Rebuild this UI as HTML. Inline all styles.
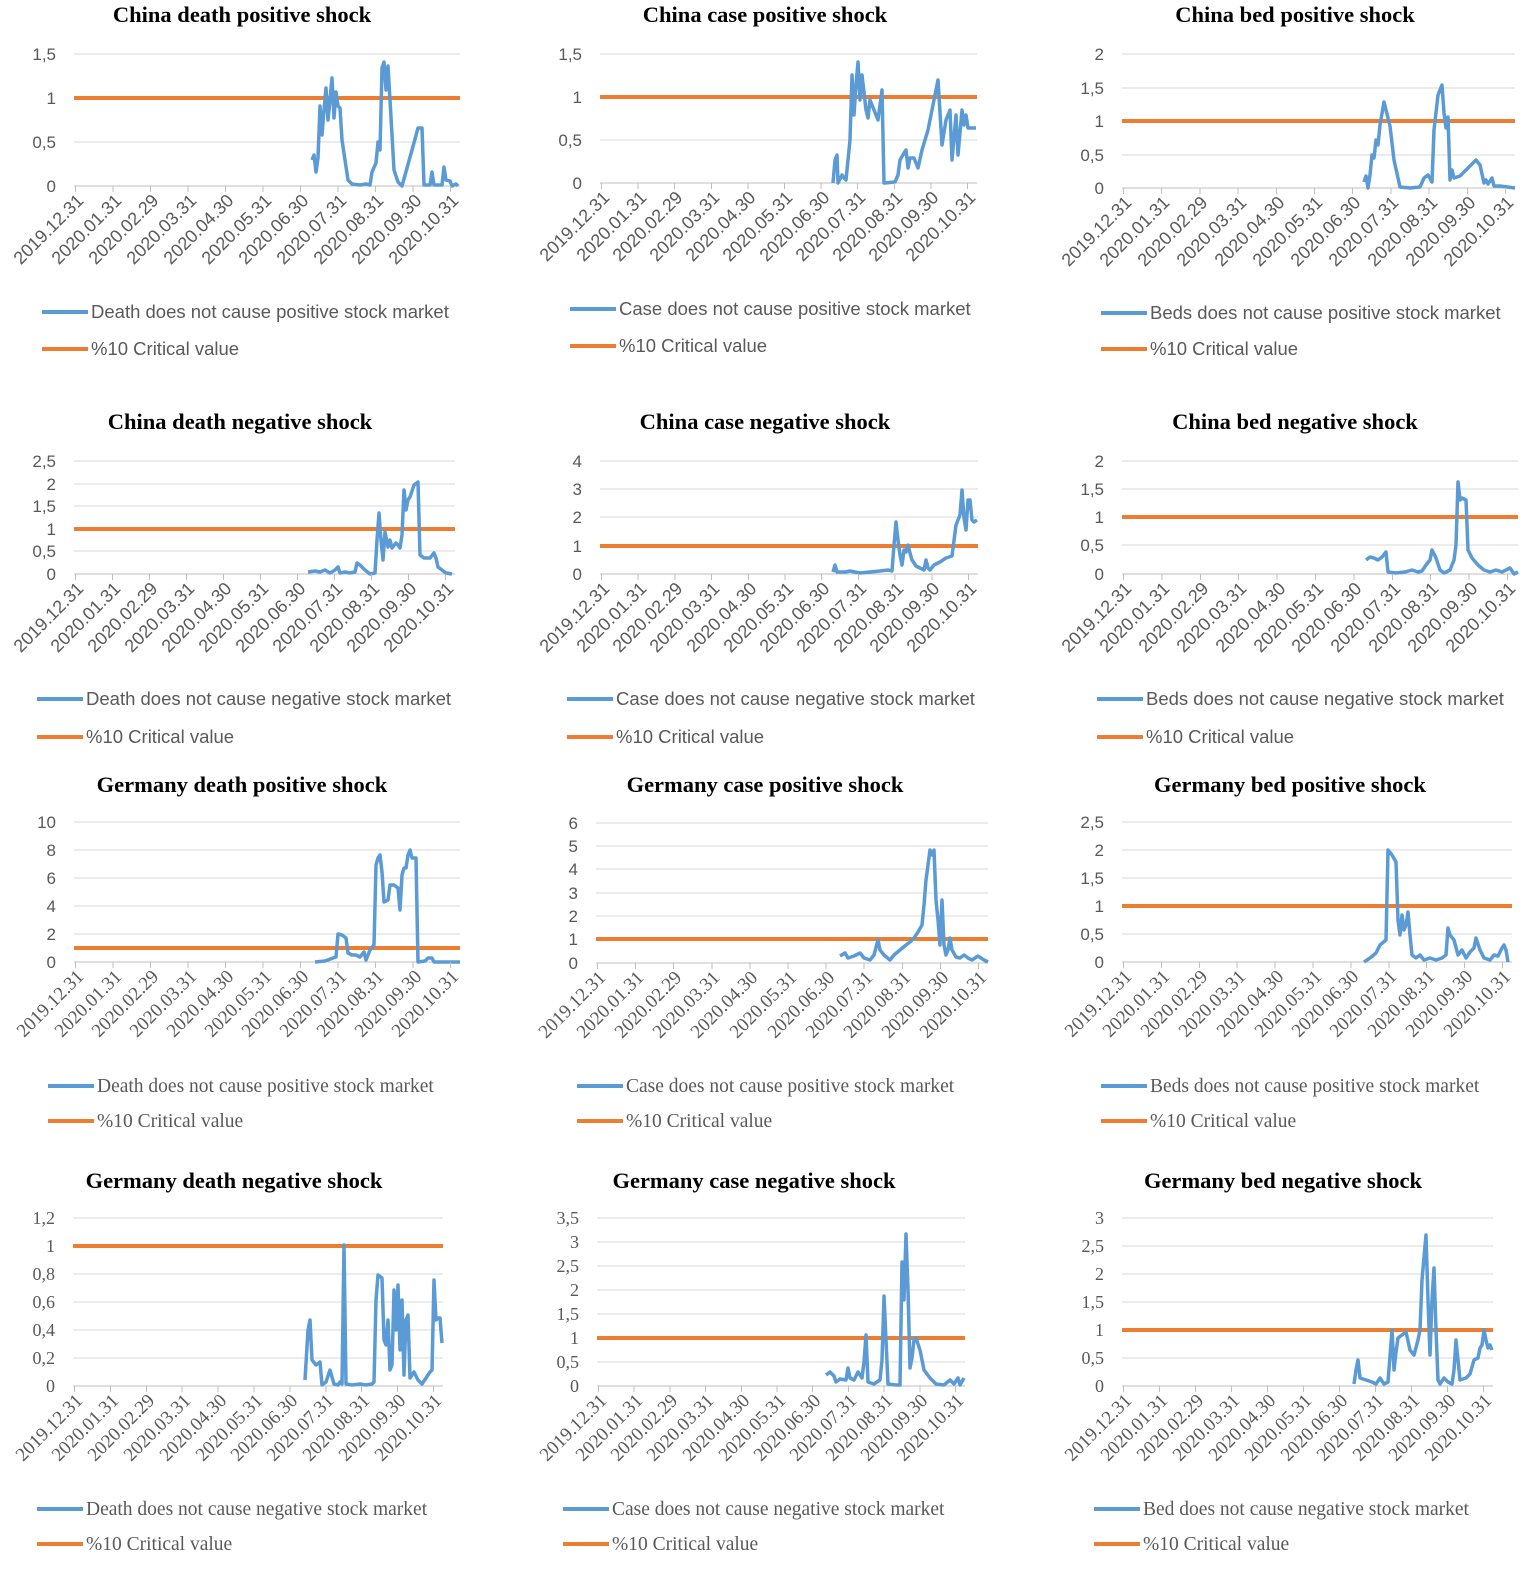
<!DOCTYPE html>
<html><head><meta charset="utf-8"><style>
body{margin:0;background:#fff;width:1535px;height:1582px;position:relative;overflow:hidden}
svg{position:absolute;left:0;top:0}
.xl{position:absolute;height:0;width:0}
.xl::before{content:"";position:absolute;left:0;top:0;height:6px;width:calc(var(--s)*10.2);background:repeating-linear-gradient(to right,#bfbfbf 0 1px,transparent 1px var(--s))}
.xl span{position:absolute;top:5px;left:calc(var(--s)*var(--i) - 120px - 1px);width:120px;text-align:right;transform-origin:100% 0;transform:rotate(-45deg);font:18px "Liberation Sans",sans-serif;color:#595959;white-space:nowrap;line-height:18px}
.xl.sf span{font:19px "Liberation Serif",serif;line-height:19px}
.t{font:bold 22.5px "Liberation Serif",serif;fill:#000;text-anchor:middle}
.y{font:17px "Liberation Sans",sans-serif;fill:#595959;text-anchor:end}
.ys{font:18px "Liberation Serif",serif;fill:#595959;text-anchor:end}
.lg{font:18.5px "Liberation Sans",sans-serif;fill:#595959}
.lgs{font:19.5px "Liberation Serif",serif;fill:#595959}
.g{stroke:#d9d9d9;stroke-width:1}
.a{stroke:#bfbfbf;stroke-width:1}
.b{fill:none;stroke:#5B9BD5;stroke-width:3.5;stroke-linejoin:round}
.o{stroke:#ED7D31;stroke-width:4}
.lb{stroke:#5B9BD5;stroke-width:4}
</style></head><body>
<svg width="1535" height="1582">
<!-- Chart 1 -->
<text class="t" x="242" y="22">China death positive shock</text>
<line class="g" x1="74" x2="460" y1="54" y2="54"/><line class="g" x1="74" x2="460" y1="98" y2="98"/><line class="g" x1="74" x2="460" y1="142" y2="142"/><line class="a" x1="74" x2="460" y1="186" y2="186"/>
<text class="y" x="56" y="60">1,5</text><text class="y" x="56" y="104">1</text><text class="y" x="56" y="148">0,5</text><text class="y" x="56" y="192">0</text>
<line class="o" x1="74" x2="460" y1="98" y2="98"/>
<polyline class="b" points="312,160 314,155 316,172 318,158 320,106 322,135 324,110 326,88 328,120 330,100 332,78 334,118 336,92 338,106 340,108 342,140 348,180 352,184 360,185 366,184 370,185 372,172 376,163 378,142 380,150 382,68 384,62 386,90 388,66 390,100 394,170 398,182 402,186 412,150 418,128 422,128 424,185 430,185 432,172 434,185 442,185 444,167 446,180 450,181 452,186 456,184 458,186"/>
<line class="lb" x1="42" x2="88" y1="312" y2="312"/><text class="lg" x="91" y="318">Death does not cause positive stock market</text>
<line class="o" x1="42" x2="88" y1="349" y2="349"/><text class="lg" x="91" y="355">%10 Critical value</text>
<!-- Chart 2 -->
<text class="t" x="765" y="22">China case positive shock</text>
<line class="g" x1="600" x2="977" y1="54" y2="54"/><line class="g" x1="600" x2="977" y1="97" y2="97"/><line class="g" x1="600" x2="977" y1="140" y2="140"/><line class="a" x1="600" x2="977" y1="183" y2="183"/>
<text class="y" x="582" y="60">1,5</text><text class="y" x="582" y="103">1</text><text class="y" x="582" y="146">0,5</text><text class="y" x="582" y="189">0</text>
<line class="o" x1="600" x2="977" y1="97" y2="97"/>
<polyline class="b" points="833,183 835,160 837,155 838,183 842,175 846,180 850,140 852,75 854,115 856,85 858,62 860,100 862,75 866,110 868,118 870,100 874,110 878,120 882,90 884,183 895,182 898,175 900,160 904,153 906,150 908,168 910,158 914,158 918,168 922,150 928,130 934,100 938,80 942,145 946,120 950,110 952,160 956,115 958,155 962,110 964,125 966,115 968,128 972,128 976,128"/>
<line class="lb" x1="570" x2="616" y1="309" y2="309"/><text class="lg" x="619" y="315">Case does not cause positive stock market</text>
<line class="o" x1="570" x2="616" y1="346" y2="346"/><text class="lg" x="619" y="352">%10 Critical value</text>
<!-- Chart 3 -->
<text class="t" x="1295" y="22">China bed positive shock</text>
<line class="g" x1="1122" x2="1515" y1="54" y2="54"/><line class="g" x1="1122" x2="1515" y1="88" y2="88"/><line class="g" x1="1122" x2="1515" y1="121" y2="121"/><line class="g" x1="1122" x2="1515" y1="155" y2="155"/><line class="a" x1="1122" x2="1515" y1="188" y2="188"/>
<text class="y" x="1104" y="60">2</text><text class="y" x="1104" y="94">1,5</text><text class="y" x="1104" y="127">1</text><text class="y" x="1104" y="161">0,5</text><text class="y" x="1104" y="194">0</text>
<line class="o" x1="1122" x2="1515" y1="121" y2="121"/>
<polyline class="b" points="1364,182 1366,176 1368,188 1370,175 1372,155 1374,158 1376,140 1378,145 1380,125 1384,102 1386,110 1390,126 1394,160 1400,187 1410,188 1420,187 1424,178 1428,175 1432,182 1434,130 1438,95 1442,85 1444,113 1446,128 1448,117 1450,180 1452,170 1454,178 1460,176 1466,170 1472,164 1476,160 1480,165 1484,183 1486,180 1488,184 1492,178 1494,186 1500,186 1515,188"/>
<line class="lb" x1="1101" x2="1147" y1="313" y2="313"/><text class="lg" x="1150" y="319">Beds does not cause positive stock market</text>
<line class="o" x1="1101" x2="1147" y1="349" y2="349"/><text class="lg" x="1150" y="355">%10 Critical value</text>
<!-- Chart 4 -->
<text class="t" x="240" y="429">China death negative shock</text>
<line class="g" x1="74" x2="455" y1="461" y2="461"/><line class="g" x1="74" x2="455" y1="484" y2="484"/><line class="g" x1="74" x2="455" y1="506" y2="506"/><line class="g" x1="74" x2="455" y1="529" y2="529"/><line class="g" x1="74" x2="455" y1="551" y2="551"/><line class="a" x1="74" x2="455" y1="574" y2="574"/>
<text class="y" x="56" y="467">2,5</text><text class="y" x="56" y="490">2</text><text class="y" x="56" y="512">1,5</text><text class="y" x="56" y="535">1</text><text class="y" x="56" y="557">0,5</text><text class="y" x="56" y="580">0</text>
<line class="o" x1="74" x2="455" y1="529" y2="529"/>
<polyline class="b" points="308,572 315,571 320,572 325,570 330,573 335,570 338,567 340,573 345,572 350,573 355,572 357,563 360,565 365,570 370,574 375,573 377,540 379,513 381,540 383,560 385,532 388,547 390,540 392,548 396,543 398,545 400,548 402,535 404,490 406,510 408,500 410,497 414,485 418,482 420,555 424,558 430,558 434,553 436,558 438,567 442,570 446,573 452,574"/>
<line class="lb" x1="37" x2="83" y1="699" y2="699"/><text class="lg" x="86" y="705">Death does not cause negative stock market</text>
<line class="o" x1="37" x2="83" y1="737" y2="737"/><text class="lg" x="86" y="743">%10 Critical value</text>
<!-- Chart 5 -->
<text class="t" x="765" y="429">China case negative shock</text>
<line class="g" x1="600" x2="978" y1="461" y2="461"/><line class="g" x1="600" x2="978" y1="489" y2="489"/><line class="g" x1="600" x2="978" y1="517" y2="517"/><line class="g" x1="600" x2="978" y1="546" y2="546"/><line class="a" x1="600" x2="978" y1="574" y2="574"/>
<text class="y" x="582" y="467">4</text><text class="y" x="582" y="495">3</text><text class="y" x="582" y="523">2</text><text class="y" x="582" y="552">1</text><text class="y" x="582" y="580">0</text>
<line class="o" x1="600" x2="978" y1="546" y2="546"/>
<polyline class="b" points="833,572 835,565 837,572 845,572 850,571 855,572 860,573 870,572 880,571 888,570 892,571 894,545 896,522 898,540 900,555 902,565 904,550 906,552 908,545 910,553 912,560 916,566 920,568 924,570 926,560 928,568 930,570 934,565 940,562 946,558 952,556 956,525 960,515 962,490 964,518 966,530 968,500 970,500 972,520 974,522 977,520"/>
<line class="lb" x1="567" x2="613" y1="699" y2="699"/><text class="lg" x="616" y="705">Case does not cause negative stock market</text>
<line class="o" x1="567" x2="613" y1="737" y2="737"/><text class="lg" x="616" y="743">%10 Critical value</text>
<!-- Chart 6 -->
<text class="t" x="1295" y="429">China bed negative shock</text>
<line class="g" x1="1122" x2="1518" y1="461" y2="461"/><line class="g" x1="1122" x2="1518" y1="489" y2="489"/><line class="g" x1="1122" x2="1518" y1="517" y2="517"/><line class="g" x1="1122" x2="1518" y1="545" y2="545"/><line class="a" x1="1122" x2="1518" y1="574" y2="574"/>
<text class="y" x="1104" y="467">2</text><text class="y" x="1104" y="495">1,5</text><text class="y" x="1104" y="523">1</text><text class="y" x="1104" y="551">0,5</text><text class="y" x="1104" y="580">0</text>
<line class="o" x1="1122" x2="1518" y1="517" y2="517"/>
<polyline class="b" points="1366,560 1370,557 1374,558 1378,560 1382,557 1386,552 1388,572 1396,573 1405,572 1412,570 1418,572 1422,571 1426,565 1430,560 1432,550 1436,558 1440,570 1444,573 1450,570 1454,560 1456,545 1458,482 1460,500 1462,498 1466,500 1468,550 1472,558 1478,565 1484,570 1490,572 1496,570 1502,572 1510,568 1514,574 1518,572"/>
<line class="lb" x1="1097" x2="1143" y1="699" y2="699"/><text class="lg" x="1146" y="705">Beds does not cause negative stock market</text>
<line class="o" x1="1097" x2="1143" y1="737" y2="737"/><text class="lg" x="1146" y="743">%10 Critical value</text>
<!-- Chart 7 -->
<text class="t" x="242" y="792">Germany death positive shock</text>
<line class="g" x1="74" x2="460" y1="822" y2="822"/><line class="g" x1="74" x2="460" y1="850" y2="850"/><line class="g" x1="74" x2="460" y1="878" y2="878"/><line class="g" x1="74" x2="460" y1="906" y2="906"/><line class="g" x1="74" x2="460" y1="934" y2="934"/><line class="a" x1="74" x2="460" y1="962" y2="962"/>
<text class="y" x="56" y="828">10</text><text class="y" x="56" y="856">8</text><text class="y" x="56" y="884">6</text><text class="y" x="56" y="912">4</text><text class="y" x="56" y="940">2</text><text class="y" x="56" y="968">0</text>
<line class="o" x1="74" x2="460" y1="948" y2="948"/>
<polyline class="b" points="315,962 325,961 333,958 336,957 338,934 342,935 346,938 348,953 352,955 356,955 360,957 364,952 366,960 370,950 374,945 376,865 378,858 380,855 382,872 384,902 388,900 390,885 394,885 398,888 400,910 402,875 404,868 406,868 408,855 410,850 412,858 416,858 418,962 425,961 428,958 432,958 434,962 460,962"/>
<line class="lb" x1="48" x2="94" y1="1086" y2="1086"/><text class="lgs" x="97" y="1092">Death does not cause positive stock market</text>
<line class="o" x1="48" x2="94" y1="1121" y2="1121"/><text class="lgs" x="97" y="1127">%10 Critical value</text>
<!-- Chart 8 -->
<text class="t" x="765" y="792">Germany case positive shock</text>
<line class="g" x1="596" x2="988" y1="823" y2="823"/><line class="g" x1="596" x2="988" y1="846" y2="846"/><line class="g" x1="596" x2="988" y1="869" y2="869"/><line class="g" x1="596" x2="988" y1="893" y2="893"/><line class="g" x1="596" x2="988" y1="916" y2="916"/><line class="g" x1="596" x2="988" y1="939" y2="939"/><line class="a" x1="596" x2="988" y1="963" y2="963"/>
<text class="y" x="578" y="829">6</text><text class="y" x="578" y="852">5</text><text class="y" x="578" y="875">4</text><text class="y" x="578" y="899">3</text><text class="y" x="578" y="922">2</text><text class="y" x="578" y="945">1</text><text class="y" x="578" y="969">0</text>
<line class="o" x1="596" x2="988" y1="939" y2="939"/>
<polyline class="b" points="840,956 845,953 848,958 854,956 860,953 864,958 870,960 874,955 878,940 880,950 884,955 890,960 894,955 900,950 906,945 910,942 914,938 918,932 922,925 924,905 926,880 928,865 930,850 932,855 934,850 936,900 938,920 940,945 942,900 944,945 946,955 948,950 950,938 952,950 956,957 960,958 964,955 968,958 972,960 978,956 984,960 988,962"/>
<line class="lb" x1="577" x2="623" y1="1086" y2="1086"/><text class="lgs" x="626" y="1092">Case does not cause positive stock market</text>
<line class="o" x1="577" x2="623" y1="1121" y2="1121"/><text class="lgs" x="626" y="1127">%10 Critical value</text>
<!-- Chart 9 -->
<text class="t" x="1290" y="792">Germany bed positive shock</text>
<line class="g" x1="1122" x2="1512" y1="822" y2="822"/><line class="g" x1="1122" x2="1512" y1="850" y2="850"/><line class="g" x1="1122" x2="1512" y1="878" y2="878"/><line class="g" x1="1122" x2="1512" y1="906" y2="906"/><line class="g" x1="1122" x2="1512" y1="934" y2="934"/><line class="a" x1="1122" x2="1512" y1="962" y2="962"/>
<text class="y" x="1104" y="828">2,5</text><text class="y" x="1104" y="856">2</text><text class="y" x="1104" y="884">1,5</text><text class="y" x="1104" y="912">1</text><text class="y" x="1104" y="940">0,5</text><text class="y" x="1104" y="968">0</text>
<line class="o" x1="1122" x2="1512" y1="906" y2="906"/>
<polyline class="b" points="1364,962 1370,958 1376,953 1380,945 1386,940 1388,850 1392,855 1396,862 1398,920 1400,935 1402,915 1404,930 1406,925 1408,912 1410,935 1412,955 1416,958 1420,955 1424,960 1430,958 1436,960 1442,958 1446,955 1448,928 1450,935 1454,940 1458,955 1462,950 1466,958 1470,952 1474,948 1476,938 1480,950 1484,958 1490,960 1494,955 1498,956 1502,948 1504,945 1506,950 1508,962"/>
<line class="lb" x1="1101" x2="1147" y1="1086" y2="1086"/><text class="lgs" x="1150" y="1092">Beds does not cause positive stock market</text>
<line class="o" x1="1101" x2="1147" y1="1121" y2="1121"/><text class="lgs" x="1150" y="1127">%10 Critical value</text>
<!-- Chart 10 -->
<text class="t" x="234" y="1188">Germany death negative shock</text>
<line class="g" x1="73" x2="443" y1="1218" y2="1218"/><line class="g" x1="73" x2="443" y1="1246" y2="1246"/><line class="g" x1="73" x2="443" y1="1274" y2="1274"/><line class="g" x1="73" x2="443" y1="1302" y2="1302"/><line class="g" x1="73" x2="443" y1="1330" y2="1330"/><line class="g" x1="73" x2="443" y1="1358" y2="1358"/><line class="a" x1="73" x2="443" y1="1386" y2="1386"/>
<text class="ys" x="55" y="1224">1,2</text><text class="ys" x="55" y="1252">1</text><text class="ys" x="55" y="1280">0,8</text><text class="ys" x="55" y="1308">0,6</text><text class="ys" x="55" y="1336">0,4</text><text class="ys" x="55" y="1364">0,2</text><text class="ys" x="55" y="1392">0</text>
<line class="o" x1="73" x2="443" y1="1246" y2="1246"/>
<polyline class="b" points="305,1380 308,1330 310,1320 312,1360 316,1365 320,1362 322,1385 326,1382 330,1370 334,1384 338,1385 340,1382 342,1384 344,1245 346,1384 352,1385 360,1384 366,1385 372,1384 374,1382 376,1300 378,1275 382,1278 384,1340 386,1345 388,1320 390,1370 392,1365 394,1290 396,1330 398,1285 400,1350 402,1300 404,1375 406,1320 408,1315 410,1378 414,1372 418,1380 422,1384 426,1378 430,1372 432,1370 434,1280 436,1320 438,1318 440,1318 442,1343"/>
<line class="lb" x1="37" x2="83" y1="1509" y2="1509"/><text class="lgs" x="86" y="1515">Death does not cause negative stock market</text>
<line class="o" x1="37" x2="83" y1="1544" y2="1544"/><text class="lgs" x="86" y="1550">%10 Critical value</text>
<!-- Chart 11 -->
<text class="t" x="754" y="1188">Germany case negative shock</text>
<line class="g" x1="597" x2="965" y1="1218" y2="1218"/><line class="g" x1="597" x2="965" y1="1242" y2="1242"/><line class="g" x1="597" x2="965" y1="1266" y2="1266"/><line class="g" x1="597" x2="965" y1="1290" y2="1290"/><line class="g" x1="597" x2="965" y1="1314" y2="1314"/><line class="g" x1="597" x2="965" y1="1338" y2="1338"/><line class="g" x1="597" x2="965" y1="1362" y2="1362"/><line class="a" x1="597" x2="965" y1="1386" y2="1386"/>
<text class="ys" x="579" y="1224">3,5</text><text class="ys" x="579" y="1248">3</text><text class="ys" x="579" y="1272">2,5</text><text class="ys" x="579" y="1296">2</text><text class="ys" x="579" y="1320">1,5</text><text class="ys" x="579" y="1344">1</text><text class="ys" x="579" y="1368">0,5</text><text class="ys" x="579" y="1392">0</text>
<line class="o" x1="597" x2="965" y1="1338" y2="1338"/>
<polyline class="b" points="826,1375 830,1372 834,1376 836,1382 840,1379 846,1380 848,1368 850,1378 854,1380 858,1372 862,1378 864,1362 866,1335 868,1382 874,1384 880,1380 882,1360 884,1296 886,1340 888,1384 896,1385 900,1385 902,1262 904,1300 906,1234 908,1290 910,1368 912,1358 914,1340 916,1338 920,1350 924,1370 930,1378 936,1384 944,1385 950,1380 954,1384 958,1378 960,1385 964,1378"/>
<line class="lb" x1="563" x2="609" y1="1509" y2="1509"/><text class="lgs" x="612" y="1515">Case does not cause negative stock market</text>
<line class="o" x1="563" x2="609" y1="1544" y2="1544"/><text class="lgs" x="612" y="1550">%10 Critical value</text>
<!-- Chart 12 -->
<text class="t" x="1283" y="1188">Germany bed negative shock</text>
<line class="g" x1="1122" x2="1493" y1="1218" y2="1218"/><line class="g" x1="1122" x2="1493" y1="1246" y2="1246"/><line class="g" x1="1122" x2="1493" y1="1274" y2="1274"/><line class="g" x1="1122" x2="1493" y1="1302" y2="1302"/><line class="g" x1="1122" x2="1493" y1="1330" y2="1330"/><line class="g" x1="1122" x2="1493" y1="1358" y2="1358"/><line class="a" x1="1122" x2="1493" y1="1386" y2="1386"/>
<text class="ys" x="1104" y="1224">3</text><text class="ys" x="1104" y="1252">2,5</text><text class="ys" x="1104" y="1280">2</text><text class="ys" x="1104" y="1308">1,5</text><text class="ys" x="1104" y="1336">1</text><text class="ys" x="1104" y="1364">0,5</text><text class="ys" x="1104" y="1392">0</text>
<line class="o" x1="1122" x2="1493" y1="1330" y2="1330"/>
<polyline class="b" points="1354,1384 1356,1370 1358,1360 1360,1378 1366,1380 1372,1382 1376,1384 1380,1378 1384,1384 1388,1382 1392,1330 1394,1370 1396,1352 1398,1338 1402,1335 1406,1332 1410,1350 1414,1355 1418,1340 1420,1330 1422,1280 1426,1235 1428,1300 1430,1355 1432,1300 1434,1268 1436,1330 1438,1380 1440,1384 1444,1378 1448,1382 1452,1384 1454,1370 1456,1340 1458,1360 1460,1380 1466,1378 1470,1374 1474,1360 1478,1358 1480,1348 1482,1345 1484,1330 1486,1340 1488,1348 1490,1345 1492,1350"/>
<line class="lb" x1="1094" x2="1140" y1="1509" y2="1509"/><text class="lgs" x="1143" y="1515">Bed does not cause negative stock market</text>
<line class="o" x1="1094" x2="1140" y1="1544" y2="1544"/><text class="lgs" x="1143" y="1550">%10 Critical value</text>
</svg>

<div class="xl" style="left:75px;top:186px;--s:37.5px"><span style="--i:0">2019.12.31</span><span style="--i:1">2020.01.31</span><span style="--i:2">2020.02.29</span><span style="--i:3">2020.03.31</span><span style="--i:4">2020.04.30</span><span style="--i:5">2020.05.31</span><span style="--i:6">2020.06.30</span><span style="--i:7">2020.07.31</span><span style="--i:8">2020.08.31</span><span style="--i:9">2020.09.30</span><span style="--i:10">2020.10.31</span></div>
<div class="xl" style="left:601px;top:183px;--s:36.6px"><span style="--i:0">2019.12.31</span><span style="--i:1">2020.01.31</span><span style="--i:2">2020.02.29</span><span style="--i:3">2020.03.31</span><span style="--i:4">2020.04.30</span><span style="--i:5">2020.05.31</span><span style="--i:6">2020.06.30</span><span style="--i:7">2020.07.31</span><span style="--i:8">2020.08.31</span><span style="--i:9">2020.09.30</span><span style="--i:10">2020.10.31</span></div>
<div class="xl" style="left:1123px;top:188px;--s:38.2px"><span style="--i:0">2019.12.31</span><span style="--i:1">2020.01.31</span><span style="--i:2">2020.02.29</span><span style="--i:3">2020.03.31</span><span style="--i:4">2020.04.30</span><span style="--i:5">2020.05.31</span><span style="--i:6">2020.06.30</span><span style="--i:7">2020.07.31</span><span style="--i:8">2020.08.31</span><span style="--i:9">2020.09.30</span><span style="--i:10">2020.10.31</span></div>
<div class="xl" style="left:75px;top:574px;--s:37px"><span style="--i:0">2019.12.31</span><span style="--i:1">2020.01.31</span><span style="--i:2">2020.02.29</span><span style="--i:3">2020.03.31</span><span style="--i:4">2020.04.30</span><span style="--i:5">2020.05.31</span><span style="--i:6">2020.06.30</span><span style="--i:7">2020.07.31</span><span style="--i:8">2020.08.31</span><span style="--i:9">2020.09.30</span><span style="--i:10">2020.10.31</span></div>
<div class="xl" style="left:601px;top:574px;--s:36.7px"><span style="--i:0">2019.12.31</span><span style="--i:1">2020.01.31</span><span style="--i:2">2020.02.29</span><span style="--i:3">2020.03.31</span><span style="--i:4">2020.04.30</span><span style="--i:5">2020.05.31</span><span style="--i:6">2020.06.30</span><span style="--i:7">2020.07.31</span><span style="--i:8">2020.08.31</span><span style="--i:9">2020.09.30</span><span style="--i:10">2020.10.31</span></div>
<div class="xl" style="left:1123px;top:574px;--s:38.4px"><span style="--i:0">2019.12.31</span><span style="--i:1">2020.01.31</span><span style="--i:2">2020.02.29</span><span style="--i:3">2020.03.31</span><span style="--i:4">2020.04.30</span><span style="--i:5">2020.05.31</span><span style="--i:6">2020.06.30</span><span style="--i:7">2020.07.31</span><span style="--i:8">2020.08.31</span><span style="--i:9">2020.09.30</span><span style="--i:10">2020.10.31</span></div>
<div class="xl sf" style="left:75px;top:962px;--s:37.5px"><span style="--i:0">2019.12.31</span><span style="--i:1">2020.01.31</span><span style="--i:2">2020.02.29</span><span style="--i:3">2020.03.31</span><span style="--i:4">2020.04.30</span><span style="--i:5">2020.05.31</span><span style="--i:6">2020.06.30</span><span style="--i:7">2020.07.31</span><span style="--i:8">2020.08.31</span><span style="--i:9">2020.09.30</span><span style="--i:10">2020.10.31</span></div>
<div class="xl sf" style="left:597px;top:963px;--s:38.1px"><span style="--i:0">2019.12.31</span><span style="--i:1">2020.01.31</span><span style="--i:2">2020.02.29</span><span style="--i:3">2020.03.31</span><span style="--i:4">2020.04.30</span><span style="--i:5">2020.05.31</span><span style="--i:6">2020.06.30</span><span style="--i:7">2020.07.31</span><span style="--i:8">2020.08.31</span><span style="--i:9">2020.09.30</span><span style="--i:10">2020.10.31</span></div>
<div class="xl sf" style="left:1123px;top:962px;--s:37.9px"><span style="--i:0">2019.12.31</span><span style="--i:1">2020.01.31</span><span style="--i:2">2020.02.29</span><span style="--i:3">2020.03.31</span><span style="--i:4">2020.04.30</span><span style="--i:5">2020.05.31</span><span style="--i:6">2020.06.30</span><span style="--i:7">2020.07.31</span><span style="--i:8">2020.08.31</span><span style="--i:9">2020.09.30</span><span style="--i:10">2020.10.31</span></div>
<div class="xl sf" style="left:74px;top:1386px;--s:35.9px"><span style="--i:0">2019.12.31</span><span style="--i:1">2020.01.31</span><span style="--i:2">2020.02.29</span><span style="--i:3">2020.03.31</span><span style="--i:4">2020.04.30</span><span style="--i:5">2020.05.31</span><span style="--i:6">2020.06.30</span><span style="--i:7">2020.07.31</span><span style="--i:8">2020.08.31</span><span style="--i:9">2020.09.30</span><span style="--i:10">2020.10.31</span></div>
<div class="xl sf" style="left:598px;top:1386px;--s:35.7px"><span style="--i:0">2019.12.31</span><span style="--i:1">2020.01.31</span><span style="--i:2">2020.02.29</span><span style="--i:3">2020.03.31</span><span style="--i:4">2020.04.30</span><span style="--i:5">2020.05.31</span><span style="--i:6">2020.06.30</span><span style="--i:7">2020.07.31</span><span style="--i:8">2020.08.31</span><span style="--i:9">2020.09.30</span><span style="--i:10">2020.10.31</span></div>
<div class="xl sf" style="left:1123px;top:1386px;--s:36px"><span style="--i:0">2019.12.31</span><span style="--i:1">2020.01.31</span><span style="--i:2">2020.02.29</span><span style="--i:3">2020.03.31</span><span style="--i:4">2020.04.30</span><span style="--i:5">2020.05.31</span><span style="--i:6">2020.06.30</span><span style="--i:7">2020.07.31</span><span style="--i:8">2020.08.31</span><span style="--i:9">2020.09.30</span><span style="--i:10">2020.10.31</span></div>
</body></html>
